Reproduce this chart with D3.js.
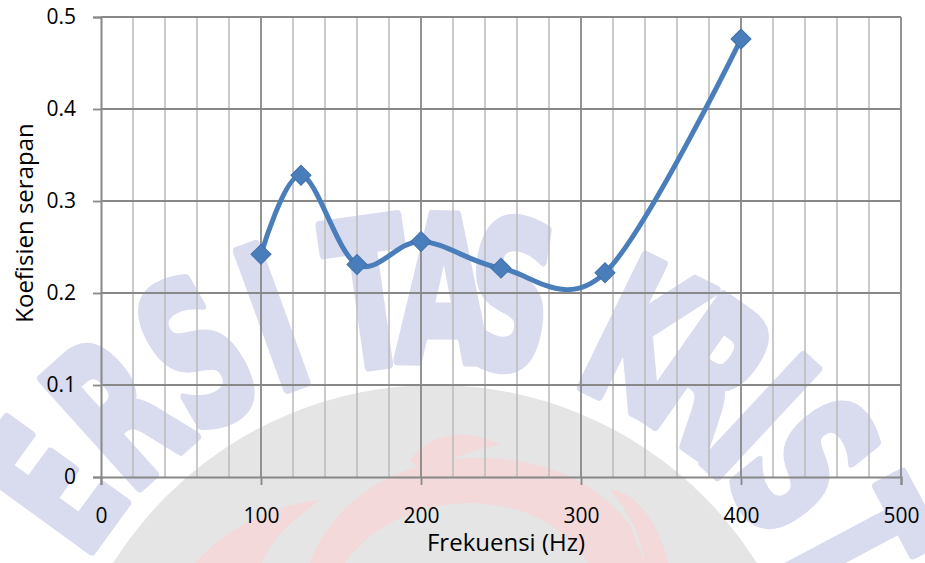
<!DOCTYPE html>
<html>
<head>
<meta charset="utf-8">
<script src="https://cdn.jsdelivr.net/npm/d3@7"></script>
<style>
  html, body { margin: 0; padding: 0; background: #fff; }
  svg { display: block; }
  text { font-family: "Open Sans", "Noto Sans", sans-serif; fill: #000; }
</style>
</head>
<body>
<svg id="chart" width="925" height="563"></svg>
<script>
// Sound absorption coefficient vs. frequency
const frequencies = [100, 125, 160, 200, 250, 315, 400];
const absorption  = [0.242, 0.328, 0.231, 0.256, 0.227, 0.222, 0.476];
const xTickValues = [0, 100, 200, 300, 400, 500];
const yTickValues = [0, 0.1, 0.2, 0.3, 0.4, 0.5];
const xTitle = "Frekuensi (Hz)";
const yTitle = "Koefisien serapan";

const svg = d3.select("#chart");
const W = 925, H = 563;
const margin = { left: 101, right: 24, top: 17, bottom: 86 };

const x = d3.scaleLinear().domain([0, 500]).range([margin.left, W - margin.right]);
const y = d3.scaleLinear().domain([0, 0.5]).range([H - margin.bottom, margin.top]);

// ---- faint background seal ----
(function drawSeal() {
  const g = svg.append("g").attr("class", "seal");
  const cx = 435, cy = 765;
  g.append("circle").attr("cx", cx).attr("cy", cy).attr("r", 380).attr("fill", "#e5e5e5");
  const pink = g.append("g").attr("fill", "#f3d9d9");
  pink.append("path").attr("d", "M310,563 C330,505 390,462 470,458 C540,456 595,480 630,525 L645,563 Z");
  pink.append("path").attr("d", "M410,460 C430,432 470,428 500,445 C470,450 445,460 425,475 Z");
  pink.append("path").attr("d", "M610,490 C635,490 660,525 668,563 L645,563 C640,535 628,510 610,490 Z");
  pink.append("path").attr("d", "M195,563 C230,525 275,505 320,500 C295,518 270,540 262,563 Z");
  g.append("path").attr("fill", "#e5e5e5")
    .attr("d", "M345,563 C372,525 418,503 472,503 C528,505 565,527 588,563 Z");

  const letters = ["E", "R", "S", "I", "T", "A", "S", "K", "R", "I", "S", "T"];
  const angles  = [-54, -42, -30, -20, -8, 1, 9, 26, 35, 43, 51, 62];
  letters.forEach((ch, i) => {
    g.append("text")
      .attr("transform", `translate(${cx},${cy}) rotate(${angles[i]}) translate(0,-478) scale(0.6,1)`)
      .attr("y", 74)
      .attr("text-anchor", "middle")
      .style("font-family", "'DejaVu Sans', sans-serif")
      .style("font-weight", "bold")
      .style("font-size", "200px")
      .style("fill", "#d9dbee")
      .style("stroke", "#d9dbee")
      .style("stroke-width", 10)
      .style("stroke-linejoin", "round")
      .text(ch);
  });
})();

// ---- gridlines ----
const grid = svg.append("g").attr("class", "grid");
const minorX = d3.range(20, 500, 20).filter(v => v % 100 !== 0);
grid.selectAll("line.minor").data(minorX).join("line")
  .attr("class", "minor")
  .attr("x1", d => x(d)).attr("x2", d => x(d))
  .attr("y1", y(0)).attr("y2", y(0.5))
  .attr("stroke", "#bdbdbd").attr("stroke-width", 1.6);
grid.selectAll("line.majorx").data(xTickValues.slice(1)).join("line")
  .attr("class", "majorx")
  .attr("x1", d => x(d)).attr("x2", d => x(d))
  .attr("y1", y(0)).attr("y2", y(0.5))
  .attr("stroke", "#888").attr("stroke-width", 1.8);
grid.selectAll("line.majory").data(yTickValues.slice(1)).join("line")
  .attr("class", "majory")
  .attr("x1", x(0)).attr("x2", x(500))
  .attr("y1", d => y(d)).attr("y2", d => y(d))
  .attr("stroke", "#888").attr("stroke-width", 1.8);

// ---- axes ----
const xAxis = svg.append("g")
  .attr("transform", `translate(0,${y(0)})`)
  .call(d3.axisBottom(x).tickValues(xTickValues).tickSize(8).tickPadding(23).tickFormat(d3.format("d")));
const yAxis = svg.append("g")
  .attr("transform", `translate(${x(0)},0)`)
  .call(d3.axisLeft(y).tickValues(yTickValues).tickSize(8).tickPadding(17).tickFormat(d => d === 0 ? "0" : d3.format(".1f")(d)));
[xAxis, yAxis].forEach(a => {
  a.select(".domain").attr("stroke", "#888").attr("stroke-width", 2);
  a.selectAll(".tick line").attr("stroke", "#888").attr("stroke-width", 1.8);
  a.selectAll(".tick text").style("font-family", "'Open Sans', sans-serif").style("font-size", "21px").attr("fill", "#000");
});

// ---- axis titles ----
svg.append("text")
  .attr("x", 506).attr("y", 551)
  .attr("text-anchor", "middle")
  .style("font-size", "24px")
  .text(xTitle);
svg.append("text")
  .attr("transform", `translate(33,223) rotate(-90)`)
  .attr("text-anchor", "middle")
  .style("font-size", "24px")
  .text(yTitle);

// ---- smoothed series ----
const pts = frequencies.map((f, i) => [f, absorption[i]]);
const line = d3.line()
  .x(d => x(d[0])).y(d => y(d[1]))
  .curve(d3.curveCatmullRom.alpha(0));
svg.append("path")
  .datum(pts)
  .attr("d", line)
  .attr("fill", "none")
  .attr("stroke", "#4a7ebb")
  .attr("stroke-width", 5)
  .attr("stroke-linejoin", "round");

svg.selectAll("path.marker").data(pts).join("path")
  .attr("class", "marker")
  .attr("transform", d => `translate(${x(d[0])},${y(d[1])}) rotate(45)`)
  .attr("d", d3.symbol().type(d3.symbolSquare).size(200))
  .attr("fill", "#4a7ebb")
  .attr("stroke", "#3f70ad")
  .attr("stroke-width", 1);
</script>
</body>
</html>
